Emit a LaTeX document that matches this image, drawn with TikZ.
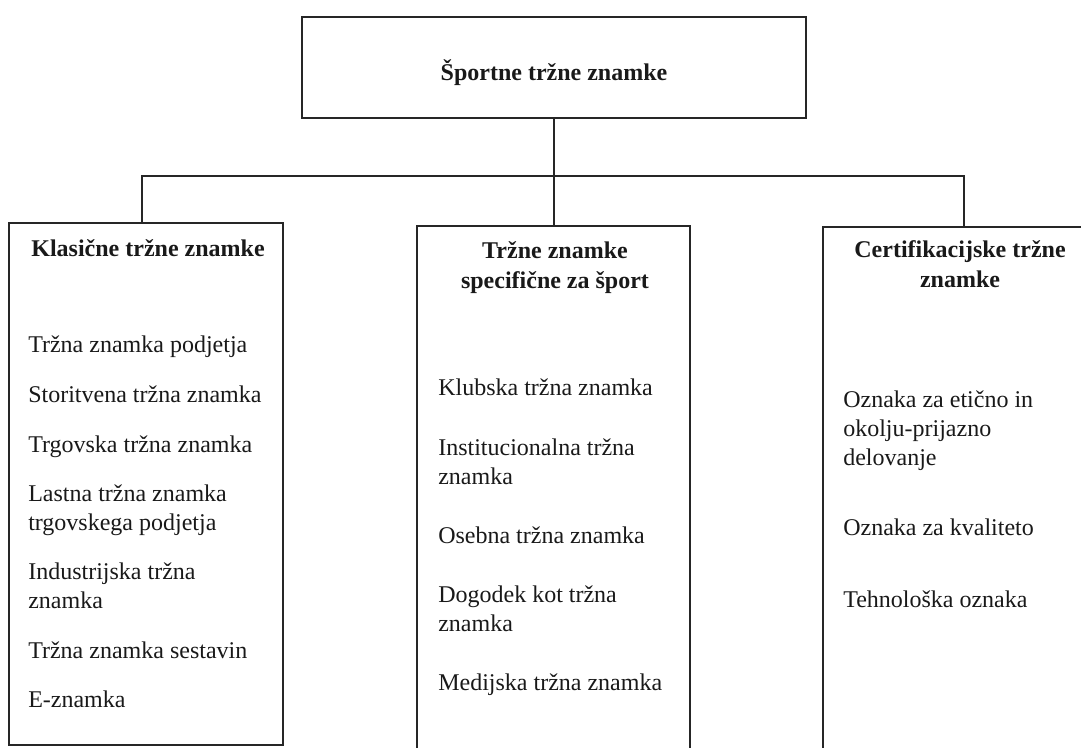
\documentclass[tikz,border=0pt]{standalone}
\usepackage{fontspec}
\setmainfont{Liberation Serif}
\usetikzlibrary{fit}
\begin{document}
\begin{tikzpicture}[x=0.75pt,y=-0.75pt,
  frame/.style={draw=black!85, line width=1.1pt},
  boxarea/.style={inner sep=0pt, outer sep=0pt},
  item/.style={anchor=base west, inner sep=0pt, align=left, text=black!90, font=\fontsize{18}{21.75}\selectfont},
  head/.style={anchor=base, inner sep=0pt, align=center, text=black!90, font=\fontsize{18}{22.5}\selectfont\bfseries},
]
\useasboundingbox (0,0) rectangle (1081,747);
\clip (0,0) rectangle (1081,747);

% boxes
\node[boxarea, frame, fit={(302,17)(806,118)}] (root) {};
\node[boxarea, frame, fit={(9,223)(283,745)}] (classic) {};
\node[boxarea, fit={(417,226)(690,770)}] (sport) {};
\node[boxarea, fit={(823,227)(1110,770)}] (cert) {};
\draw[frame] (sport.south west) -- (sport.north west) -- (sport.north east) -- (sport.south east);
\draw[frame] (cert.south west) -- (cert.north west) -- (cert.north east);

% connectors
\coordinate (jl) at (142,176);
\coordinate (jr) at (964,176);
\draw[frame, line width=1.3pt] (root.south) -- (root.south |- sport.north);
\draw[frame] (classic.north -| jl) -- (jl) -- (jr) -- (cert.north -| jr);

% headings (anchor = baseline of last line)
\node[head] (tRoot) at (554,80) {Športne tržne znamke};
\node[head] (tClassic) at (148,256) {Klasične tržne znamke};
\node[head] (tSport) at (555,288) {Tržne znamke\\specifične za šport};
\node[head] (tCert) at (960,287) {Certifikacijske tržne\\znamke};

% left items
\node[item] (c1) at (28,352) {Tržna znamka podjetja};
\node[item] (c2) at (28,402) {Storitvena tržna znamka};
\node[item] (c3) at (28,452) {Trgovska tržna znamka};
\node[item] (c4) at (28,530) {Lastna tržna znamka\\trgovskega podjetja};
\node[item] (c5) at (28,608) {Industrijska tržna\\znamka};
\node[item] (c6) at (28,658) {Tržna znamka sestavin};
\node[item] (c7) at (28,707) {E-znamka};

% middle items
\node[item] (s1) at (438,395) {Klubska tržna znamka};
\node[item] (s2) at (438,484) {Institucionalna tržna\\znamka};
\node[item] (s3) at (438,543) {Osebna tržna znamka};
\node[item] (s4) at (438,631) {Dogodek kot tržna\\znamka};
\node[item] (s5) at (438,690) {Medijska tržna znamka};

% right items
\node[item] (r1) at (843,465) {Oznaka za etično in\\okolju-prijazno\\delovanje};
\node[item] (r2) at (843,535) {Oznaka za kvaliteto};
\node[item] (r3) at (843,607) {Tehnološka oznaka};
\end{tikzpicture}
\end{document}
